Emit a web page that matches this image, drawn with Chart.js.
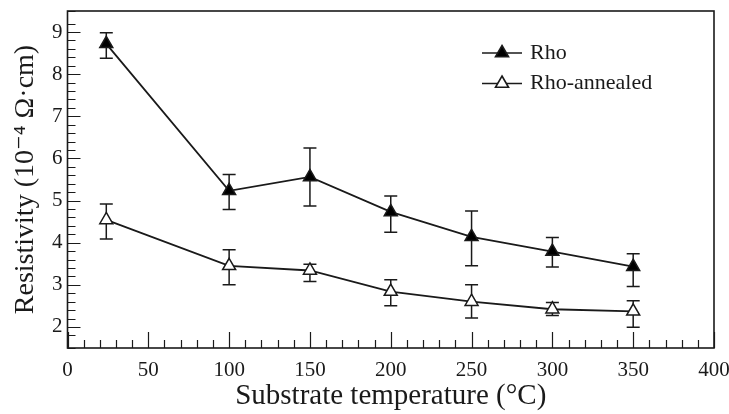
<!DOCTYPE html>
<html>
<head>
<meta charset="utf-8">
<script src="https://cdn.jsdelivr.net/npm/chart.js@4"></script>
<style>
  html, body { margin: 0; padding: 0; background: #fff; }
</style>
</head>
<body>
<canvas id="resistivity-chart" width="729" height="414"></canvas>
<script>
// substrate temperature (deg C)
const temperatures = [24, 100, 150, 200, 250, 300, 350];

// as-deposited resistivity (10^-4 ohm.cm) and its error bar ends
const rho = [8.72, 5.23, 5.56, 4.73, 4.14, 3.79, 3.43];
const rhoLow = [8.38, 4.79, 4.87, 4.25, 3.45, 3.42, 2.96];
const rhoHigh = [8.98, 5.62, 6.25, 5.11, 4.75, 4.12, 3.74];

// annealed resistivity and its error bar ends
const rhoAnnealed = [4.54, 3.45, 3.34, 2.84, 2.60, 2.42, 2.37];
const annealedLow = [4.09, 3.00, 3.08, 2.50, 2.21, 2.27, 1.99];
const annealedHigh = [4.92, 3.83, 3.49, 3.12, 3.00, 2.58, 2.62];

// labelled ticks
const xTickLabels = [0, 50, 100, 150, 200, 250, 300, 350, 400];
const yTickLabels = [2, 3, 4, 5, 6, 7, 8, 9];

const ink = "#1a1a1a";
const serif = "'Liberation Serif', 'DejaVu Serif', serif";

const toPoints = (ys) => temperatures.map((t, i) => ({ x: t, y: ys[i] }));
// tick values come out with float noise, so match loosely
const findLabel = (list, v) => list.find((l) => Math.abs(l - v) < 1e-6);

// error bars, drawn under the markers
const errorBars = {
  id: "errorBars",
  beforeDatasetsDraw(chart) {
    const { ctx } = chart;
    const y = chart.scales.y;
    ctx.save();
    ctx.strokeStyle = ink;
    ctx.lineWidth = 1.5;
    chart.data.datasets.forEach((ds, di) => {
      const meta = chart.getDatasetMeta(di);
      meta.data.forEach((pt, i) => {
        const lo = y.getPixelForValue(ds.errLow[i]);
        const hi = y.getPixelForValue(ds.errHigh[i]);
        ctx.beginPath();
        ctx.moveTo(pt.x, lo);
        ctx.lineTo(pt.x, hi);
        ctx.moveTo(pt.x - 6.5, lo);
        ctx.lineTo(pt.x + 6.5, lo);
        ctx.moveTo(pt.x - 6.5, hi);
        ctx.lineTo(pt.x + 6.5, hi);
        ctx.stroke();
      });
    });
    ctx.restore();
  },
};

// box round the plot and inward tick marks
const frameAndTicks = {
  id: "frameAndTicks",
  afterDraw(chart) {
    const { ctx, chartArea: a } = chart;
    const { x, y } = chart.scales;
    ctx.save();
    ctx.strokeStyle = ink;
    ctx.lineWidth = 1.2;
    ctx.beginPath();
    x.ticks.forEach((t) => {
      const px = Math.round(x.getPixelForValue(t.value)) + 0.5;
      const len = findLabel(xTickLabels, t.value) !== undefined ? 16 : 8;
      ctx.moveTo(px, a.bottom);
      ctx.lineTo(px, a.bottom - len);
    });
    y.ticks.forEach((t) => {
      const py = Math.round(y.getPixelForValue(t.value)) + 0.5;
      const len = findLabel(yTickLabels, t.value) !== undefined ? 13 : 8;
      ctx.moveTo(a.left, py);
      ctx.lineTo(a.left + len, py);
    });
    ctx.stroke();
    ctx.lineWidth = 1.6;
    ctx.strokeRect(a.left, a.top, a.right - a.left, a.bottom - a.top);
    ctx.restore();
  },
};

// legend with a line through the marker
const lineLegend = {
  id: "lineLegend",
  afterDraw(chart) {
    const { ctx } = chart;
    ctx.save();
    chart.data.datasets.forEach((ds, i) => {
      const ly = 53 + i * 30.5;
      ctx.strokeStyle = ink;
      ctx.lineWidth = 1.6;
      ctx.beginPath();
      ctx.moveTo(482, ly);
      ctx.lineTo(522, ly);
      ctx.stroke();
      ctx.fillStyle = ds.pointBackgroundColor;
      Chart.helpers.drawPoint(
        ctx,
        { pointStyle: "triangle", radius: 7.5, borderWidth: 1.5, rotation: 0 },
        502,
        ly
      );
      ctx.fillStyle = ink;
      ctx.font = "22px " + serif;
      ctx.textBaseline = "middle";
      ctx.fillText(ds.label, 530, ly);
    });
    ctx.restore();
  },
};

const ctx = document.getElementById("resistivity-chart").getContext("2d");
new Chart(ctx, {
  type: "line",
  data: {
    datasets: [
      {
        label: "Rho",
        data: toPoints(rho),
        errLow: rhoLow,
        errHigh: rhoHigh,
        borderColor: ink,
        borderWidth: 1.8,
        pointStyle: "triangle",
        pointRadius: 7.5,
        pointBorderWidth: 1.5,
        pointBorderColor: ink,
        pointBackgroundColor: "#000",
        tension: 0,
      },
      {
        label: "Rho-annealed",
        data: toPoints(rhoAnnealed),
        errLow: annealedLow,
        errHigh: annealedHigh,
        borderColor: ink,
        borderWidth: 1.8,
        pointStyle: "triangle",
        pointRadius: 7.5,
        pointBorderWidth: 1.5,
        pointBorderColor: ink,
        pointBackgroundColor: "#fff",
        tension: 0,
      },
    ],
  },
  options: {
    responsive: false,
    animation: false,
    devicePixelRatio: 1,
    layout: { padding: { left: 0, right: 15, top: 11, bottom: 0 } },
    plugins: {
      legend: { display: false },
      tooltip: { enabled: false },
    },
    scales: {
      x: {
        type: "linear",
        min: 0,
        max: 400,
        grid: { display: false, drawTicks: false },
        border: { display: false },
        ticks: {
          stepSize: 10,
          autoSkip: false,
          maxRotation: 0,
          padding: 10,
          color: ink,
          font: { family: serif, size: 21 },
          callback: (v) => {
            const l = findLabel(xTickLabels, v);
            return l === undefined ? "" : String(l);
          },
        },
        title: {
          display: true,
          text: "Substrate temperature (°C)",
          color: ink,
          font: { family: serif, size: 29 },
          padding: { top: 0, bottom: 0 },
        },
        afterFit: (axis) => {
          axis.height = 66;
          axis.paddingLeft = 0;
          axis.paddingRight = 0;
        },
      },
      y: {
        min: 1.5,
        max: 9.499,
        grid: { display: false, drawTicks: false },
        border: { display: false },
        ticks: {
          stepSize: 0.2,
          autoSkip: false,
          padding: 5,
          color: ink,
          font: { family: serif, size: 21 },
          callback: (v) => {
            const l = findLabel(yTickLabels, v);
            return l === undefined ? "" : String(l);
          },
        },
        title: {
          display: true,
          text: "Resistivity (10⁻⁴ Ω·cm)",
          color: ink,
          font: { family: serif, size: 28 },
          padding: { top: 9, bottom: 0 },
        },
        afterFit: (axis) => {
          axis.width = 67.5;
          axis.paddingTop = 0;
          axis.paddingBottom = 0;
        },
      },
    },
  },
  plugins: [errorBars, frameAndTicks, lineLegend],
});
</script>
</body>
</html>
